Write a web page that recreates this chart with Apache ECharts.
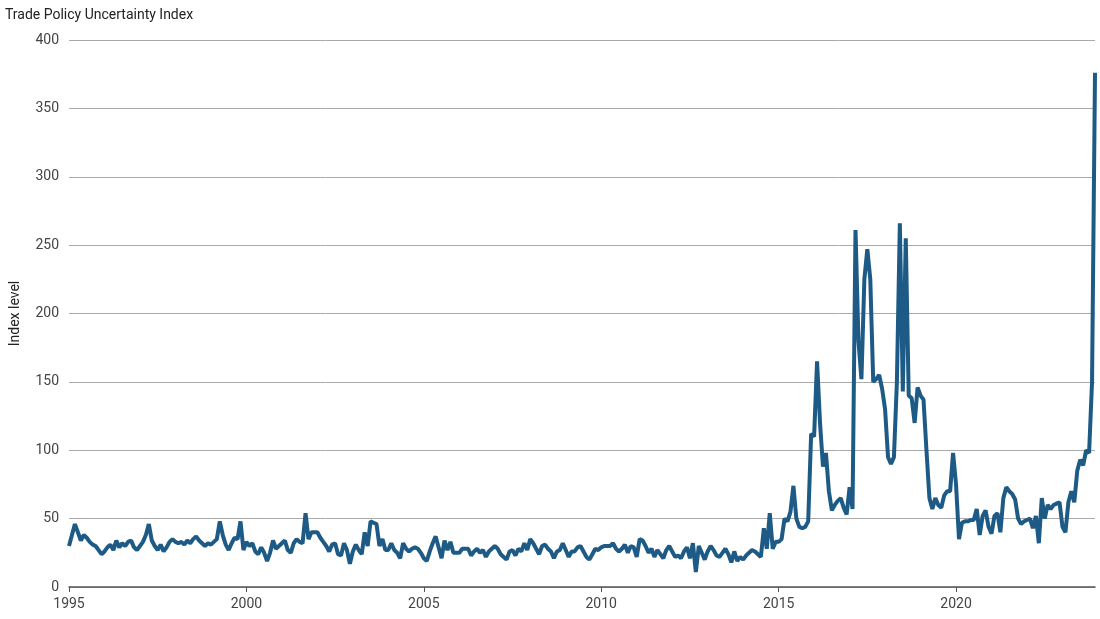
<!DOCTYPE html>
<html><head><meta charset="utf-8">
<script src="https://cdn.jsdelivr.net/npm/echarts@6/dist/echarts.min.js"></script>
<style>html,body{margin:0;padding:0;background:#fff}#c{width:1100px;height:619px}</style>
</head><body><div id="c"></div>
<script>
const startYear = 1995;
const yTicks = [0,50,100,150,200,250,300,350,400];
const values = [
30,38,46,40,34,38,36,33,31,30,27,24,
26,29,31,27,34,29,32,30,33,34,29,27,
30,33,38,46,34,30,27,31,26,29,33,35,
33,32,33,31,34,32,35,37,34,32,30,32,
31,33,35,48,38,31,27,32,36,35,48,27,
33,30,32,26,24,29,25,19,25,34,28,30,
32,34,27,25,32,35,33,32,54,35,40,40,
40,36,33,30,26,31,32,24,23,32,27,17,
26,31,27,24,40,30,48,47,46,30,35,27,
27,32,27,25,21,32,28,26,28,29,28,25,
21,19,26,32,37,29,21,34,27,33,25,25,
25,28,28,28,23,26,28,25,27,22,26,28,
30,28,24,22,20,26,27,23,28,26,32,27,
35,32,28,24,30,31,28,26,21,26,27,32,
27,22,26,26,29,30,26,22,20,24,28,27,
29,30,30,30,32,28,26,28,31,25,30,29,
22,35,34,30,25,28,22,27,24,21,27,30,
26,22,23,21,26,29,21,32,11,30,25,20,
26,30,27,23,22,25,28,24,18,26,19,22,
20,23,25,27,26,24,22,43,28,54,28,33,
33,35,50,48,55,74,50,44,43,44,48,112,
110,165,120,88,98,70,56,60,63,65,58,53,
73,57,261,180,152,225,247,225,150,152,155,145,
130,95,90,95,150,266,143,255,140,138,120,146,
140,137,100,65,57,65,60,58,67,70,70,98,
75,35,47,48,48,49,49,57,38,52,56,44,
39,52,54,40,65,73,70,68,64,50,46,48,
49,50,43,52,32,65,50,60,57,60,61,62,
44,40,62,70,62,85,93,89,100,98,150,376
];
const months = values.map((v,i)=> (startYear + Math.floor(i/12)) + '-' + String(i%12+1).padStart(2,'0'));
const chart = echarts.init(document.getElementById('c'));
chart.setOption({
  animation:false,
  title:{text:'Trade Policy Uncertainty Index',left:0,top:3,textStyle:{fontFamily:'Roboto',fontSize:14,fontWeight:'normal',color:'#222'}},
  grid:{left:61,right:5,top:40,bottom:32},
  xAxis:{type:'category',data:months,boundaryGap:false,
    axisLine:{lineStyle:{color:'#555',width:1.5}},
    axisTick:{show:true,interval:(i)=>i%60===0,lineStyle:{color:'#555'}},
    axisLabel:{interval:(i)=>i%60===0,formatter:(v)=>v.slice(0,4),color:'#444',fontFamily:'Roboto',fontSize:14,margin:10}},
  yAxis:{type:'value',min:0,max:400,interval:50,name:'Index level',nameLocation:'middle',nameRotate:90,nameGap:47,
    nameTextStyle:{fontFamily:'Roboto',fontSize:14,color:'#222'},
    axisLine:{show:false},axisTick:{show:false},
    axisLabel:{color:'#444',fontFamily:'Roboto',fontSize:14,margin:10,formatter:(v)=>yTicks.includes(v)?String(v):''},
    splitLine:{lineStyle:{color:'#aaa',width:1}}},
  series:[{type:'line',data:values,showSymbol:false,lineStyle:{color:'#1d5a85',width:4},itemStyle:{color:'#1d5a85'}}]
});
</script></body></html>
